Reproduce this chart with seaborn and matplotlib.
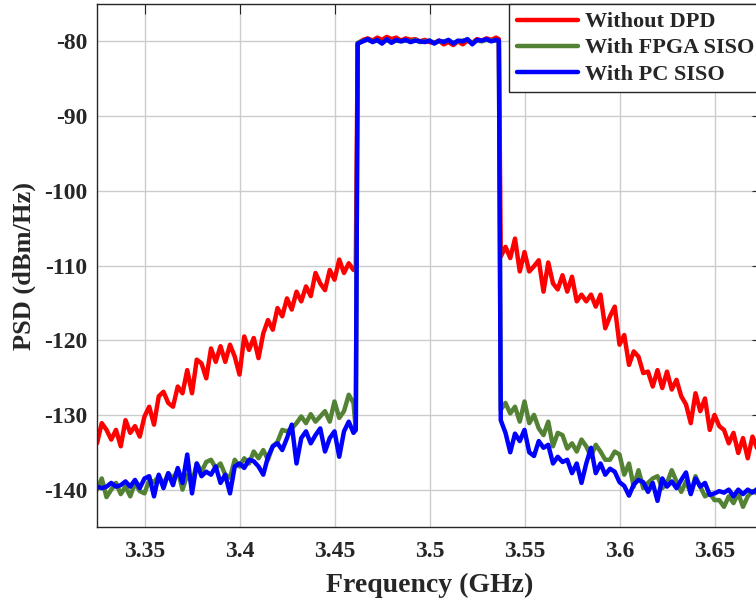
import seaborn as sns
import matplotlib.pyplot as plt
import numpy as np
import pandas as pd

# frequency samples (GHz)
freq_left = [3.325, 3.3275, 3.33, 3.3325, 3.335, 3.3375, 3.34, 3.3425, 3.345, 3.3475,
             3.35, 3.3525, 3.355, 3.3575, 3.36, 3.3625, 3.365, 3.3675, 3.37, 3.3725,
             3.375, 3.3775, 3.38, 3.3825, 3.385, 3.3875, 3.39, 3.3925, 3.395, 3.3975,
             3.4, 3.4025, 3.405, 3.4075, 3.41, 3.4125, 3.415, 3.4175, 3.42, 3.4225,
             3.425, 3.4275, 3.43, 3.4325, 3.435, 3.4375, 3.44, 3.4425, 3.445, 3.4475,
             3.45, 3.4525, 3.455, 3.4575, 3.46, 3.4612]
freq_band = [3.4622, 3.465, 3.4675, 3.47, 3.4725, 3.475, 3.4775, 3.48, 3.4825, 3.485,
             3.4875, 3.49, 3.4925, 3.495, 3.4975, 3.5, 3.5025, 3.505, 3.5075, 3.51,
             3.5125, 3.515, 3.5175, 3.52, 3.5225, 3.525, 3.5275, 3.53, 3.5325, 3.535,
             3.5365]
freq_right = [3.5375, 3.54, 3.5425, 3.545, 3.5475, 3.55, 3.5525, 3.555, 3.5575, 3.56,
              3.5625, 3.565, 3.5675, 3.57, 3.5725, 3.575, 3.5775, 3.58, 3.5825, 3.585,
              3.5875, 3.59, 3.5925, 3.595, 3.5975, 3.6, 3.6025, 3.605, 3.6075, 3.61,
              3.6125, 3.615, 3.6175, 3.62, 3.6225, 3.625, 3.6275, 3.63, 3.6325, 3.635,
              3.6375, 3.64, 3.6425, 3.645, 3.6475, 3.65, 3.6525, 3.655, 3.6575, 3.66,
              3.6625, 3.665, 3.6675, 3.67, 3.6725, 3.675]

# PSD (dBm/Hz) - without DPD
red_left = [-133.8, -131.1, -132.0, -133.3, -132.0, -134.2, -130.7, -132.4, -131.5, -132.9,
            -130.2, -128.9, -131.3, -127.5, -126.9, -128.4, -128.9, -126.2, -127.1, -124.0,
            -127.1, -122.6, -123.1, -125.1, -121.1, -122.9, -120.8, -122.9, -120.6, -122.2,
            -124.6, -119.5, -121.3, -119.7, -122.4, -119.1, -117.3, -118.6, -115.7, -116.8,
            -114.4, -115.9, -113.5, -114.8, -112.8, -114.1, -111.0, -112.4, -113.3, -110.6,
            -111.9, -109.2, -111.0, -109.7, -110.6, -110.4]
red_band = [-80.3, -79.8, -79.6, -79.9, -79.5, -79.8, -79.4, -79.7, -79.5, -79.9,
            -79.6, -79.8, -79.7, -80.0, -79.8, -80.1, -80.2, -79.9, -80.4, -80.1,
            -80.5, -80.0, -80.4, -79.9, -80.2, -79.7, -79.9, -79.6, -79.8, -79.5,
            -79.7]
red_right = [-108.8, -107.5, -109.0, -106.4, -110.8, -108.2, -110.8, -110.1, -109.3, -113.5,
             -109.6, -112.4, -113.2, -111.3, -113.5, -111.5, -114.8, -113.9, -114.8, -113.9,
             -115.5, -113.9, -118.4, -116.8, -115.5, -120.6, -119.3, -123.3, -121.5, -122.2,
             -124.4, -124.2, -126.2, -124.0, -126.4, -124.2, -126.6, -125.3, -127.5, -128.6,
             -131.1, -127.1, -129.5, -127.8, -132.0, -130.0, -131.5, -132.0, -133.8, -132.4,
             -135.1, -133.1, -135.8, -132.9, -134.5, -134.0]

# with FPGA SISO
green_left = [-140.0, -138.5, -141.0, -140.0, -139.1, -140.6, -139.6, -140.9, -139.1, -140.2,
              -140.5, -138.7, -139.0, -138.2, -139.3, -137.8, -138.5, -137.4, -140.0, -138.0,
              -139.1, -136.5, -137.6, -136.3, -136.0, -137.1, -136.5, -138.0, -138.4, -136.0,
              -136.9, -135.8, -136.5, -134.9, -135.8, -134.7, -136.0, -134.2, -133.6, -132.0,
              -132.2, -131.8, -131.1, -130.2, -131.1, -129.9, -130.9, -130.2, -129.5, -130.9,
              -128.2, -130.4, -129.5, -127.3, -128.4, -132.0]
green_band = [-80.2, -79.9, -79.8, -80.0, -79.9, -80.2, -79.8, -80.1, -79.9, -80.0,
              -79.9, -80.0, -79.8, -80.1, -80.0, -79.9, -80.2, -80.0, -80.0, -79.9,
              -80.2, -80.0, -79.9, -79.8, -80.2, -79.9, -80.0, -79.8, -79.9, -79.9,
              -80.0]
green_right = [-129.3, -128.4, -129.8, -128.9, -130.9, -128.2, -131.1, -130.0, -131.8, -132.7,
               -130.9, -134.2, -132.4, -132.7, -134.5, -133.8, -134.9, -133.3, -134.2, -135.6,
               -134.0, -134.9, -136.0, -136.0, -134.9, -135.3, -138.0, -136.5, -139.6, -137.4,
               -139.8, -139.1, -138.5, -138.2, -139.8, -139.1, -137.4, -138.9, -140.3, -138.9,
               -140.5, -138.2, -139.6, -140.9, -140.5, -141.4, -141.4, -142.3, -140.9, -141.8,
               -140.5, -142.3, -140.9, -140.2, -140.5, -141.2]

# with PC SISO
blue_left = [-139.6, -139.8, -139.6, -139.1, -139.6, -139.4, -138.9, -139.6, -138.7, -139.8,
             -138.5, -138.2, -140.9, -138.0, -139.8, -137.8, -139.4, -137.1, -139.1, -135.3,
             -140.5, -136.5, -138.2, -137.6, -138.0, -136.9, -139.1, -138.0, -140.5, -136.9,
             -136.5, -137.1, -136.0, -136.2, -136.9, -138.0, -135.6, -134.2, -133.8, -134.7,
             -133.1, -131.3, -136.5, -133.1, -132.2, -133.8, -132.7, -131.8, -134.9, -133.1,
             -132.2, -135.6, -132.2, -130.9, -132.4, -132.0]
blue_band = [-80.3, -80.0, -79.7, -80.1, -79.8, -80.3, -79.7, -80.2, -79.8, -80.0,
             -79.8, -80.1, -79.9, -80.0, -80.1, -79.9, -80.3, -79.9, -80.1, -79.8,
             -80.3, -79.9, -80.0, -79.7, -80.4, -79.8, -79.9, -79.7, -80.0, -79.8,
             -79.9]
blue_right = [-130.7, -132.4, -135.0, -132.5, -133.5, -132.0, -135.0, -135.5, -133.5, -134.4,
              -134.0, -136.5, -135.6, -136.3, -136.0, -137.8, -136.5, -139.1, -136.5, -134.4,
              -137.8, -136.5, -138.0, -137.2, -137.6, -139.0, -139.5, -140.8, -139.3, -138.7,
              -139.0, -140.3, -139.1, -141.5, -138.5, -139.6, -138.9, -139.8, -138.7, -137.7,
              -140.6, -138.5, -139.6, -139.1, -140.7, -140.5, -140.2, -140.4, -140.0, -140.9,
              -140.0, -140.6, -140.0, -140.4, -139.9, -140.2]

labels = ['Without DPD', 'With FPGA SISO', 'With PC SISO']
colors = ['#ff0000', '#548235', '#0000ff']

freq = freq_left + freq_band + freq_right
frames = []
for name, vals in zip(labels, [red_left + red_band + red_right,
                               green_left + green_band + green_right,
                               blue_left + blue_band + blue_right]):
    frames.append(pd.DataFrame({'freq': freq, 'psd': vals, 'series': name}))
df = pd.concat(frames, ignore_index=True)

sns.set_style('white')
plt.rcParams['font.family'] = ['Liberation Serif', 'DejaVu Serif']
plt.rcParams['font.weight'] = 'bold'
plt.rcParams['axes.labelweight'] = 'bold'
plt.rcParams['axes.unicode_minus'] = False

fig = plt.figure(figsize=(7.56, 6.01), dpi=100)
ax = fig.add_axes([97 / 756, 1 - 527 / 601, 665 / 756, 523 / 601])

sns.lineplot(data=df, x='freq', y='psd', hue='series', hue_order=labels,
             palette=colors, linewidth=3.2, estimator=None, sort=False, ax=ax)

ax.set_xlim(3.325, 3.675)
ax.set_ylim(-145, -75)
ax.set_xticks([3.35, 3.4, 3.45, 3.5, 3.55, 3.6, 3.65])
ax.set_xticklabels(['3.35', '3.4', '3.45', '3.5', '3.55', '3.6', '3.65'])
ax.set_yticks([-140, -130, -120, -110, -100, -90, -80])
ax.grid(True, color='#cccccc', linewidth=1.0)
ax.set_axisbelow(True)
for s in ax.spines.values():
    s.set_color('#262626')
    s.set_linewidth(1.0)
ax.tick_params(axis='y', direction='in', length=7, width=0.8, colors='#262626',
               labelsize=17, pad=7, right=True)
ax.tick_params(axis='x', direction='in', length=7, width=0.8, colors='#262626',
               labelsize=17, pad=10, top=True)
ax.set_xlabel('Frequency (GHz)', fontsize=20, color='#262626', labelpad=8)
ax.set_ylabel('PSD (dBm/Hz)', fontsize=19, color='#262626', labelpad=6)

leg = ax.legend(loc='upper right', fontsize=16, frameon=True, fancybox=False,
                borderaxespad=0, handlelength=2.75, handletextpad=0.3,
                labelspacing=0.25, borderpad=0.35)
leg.get_frame().set_edgecolor('#262626')
leg.get_frame().set_linewidth(1.0)
leg.get_frame().set_alpha(1)
for h in leg.get_lines():
    h.set_linewidth(3.2)

fig.savefig('out.png', dpi=100)
